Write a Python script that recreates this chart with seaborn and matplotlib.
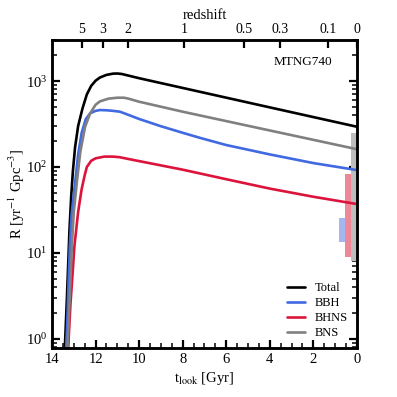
import numpy as np
import pandas as pd
import matplotlib
matplotlib.use('Agg')
import matplotlib.pyplot as plt
import seaborn as sns
from matplotlib.ticker import MultipleLocator, LogLocator, NullFormatter

# merger rate curves (lookback time in Gyr, rate in yr^-1 Gpc^-3)
t_total = [13.42, 13.38, 13.32, 13.26, 13.2, 13.12, 13.04, 12.94, 12.8, 12.6, 12.4, 12.2, 12.0,
           11.8, 11.5, 11.2, 11.0, 10.8, 10.5, 10.0, 8.0, 6.0, 4.0, 2.0, 0.0]
r_total = [0.7, 1.2, 2.8, 7, 18, 45, 90, 170, 300, 480, 700, 880, 1010,
           1100, 1180, 1220, 1225, 1210, 1160, 1080, 832, 641, 494, 381, 294]

t_bbh = [13.36, 13.3, 13.24, 13.18, 13.1, 12.94, 12.8, 12.64, 12.45, 12.25, 12.0, 11.8, 11.5,
         11.2, 10.88, 10.5, 10.0, 9.0, 8.0, 7.2, 6.0, 4.0, 2.0, 0.0]
r_bbh = [0.7, 1.5, 4.5, 12, 28, 65, 140, 249, 360, 421, 450, 460, 457,
         450, 440, 405, 362, 298, 250, 218, 180, 140, 111, 92]

t_bhns = [13.26, 13.22, 13.15, 13.05, 12.97, 12.8, 12.64, 12.5, 12.4, 12.2, 12.0, 11.6,
          11.2, 10.9, 10.5, 10.0, 8.0, 6.0, 4.0, 2.0, 0.0]
r_bhns = [0.7, 1.2, 2.6, 6, 12, 30, 55, 80, 100, 118, 126, 132,
          132, 130, 124, 117, 93, 72, 56, 45, 37]

t_bns = [13.3, 13.24, 13.15, 13.09, 13.0, 12.85, 12.7, 12.48, 12.25, 12.0, 11.8, 11.4,
         11.0, 10.7, 10.5, 10.0, 8.0, 6.0, 4.0, 2.0, 0.0]
r_bns = [0.7, 1.5, 5, 12, 30, 70, 150, 294, 420, 530, 580, 625,
         640, 640, 625, 575, 440, 342, 266, 207, 161]

# observed local rate ranges (bars at the right edge)
obs_names = ['BNS', 'BHNS', 'BBH']
obs_low = [8, 9, 13.4]
obs_high = [250, 83, 25.7]

z_ticks = [5, 3, 2, 1, 0.5, 0.3, 0.1, 0]
z_labels = ['5', '3', '2', '1', '0.5', '0.3', '0.1', '0']

colors = {'Total': 'black', 'BBH': '#4169e1', 'BHNS': '#dc143c', 'BNS': 'gray'}


def lookback(z, H0=67.74, Om=0.3089):
    # flat LCDM lookback time in Gyr
    if z == 0:
        return 0.0
    zz = np.linspace(0, z, 2000)
    E = np.sqrt(Om * (1 + zz) ** 3 + 1 - Om)
    return 977.8 / H0 * np.trapezoid(1 / ((1 + zz) * E), zz)


frames = []
for name, t, r in [('Total', t_total, r_total), ('BBH', t_bbh, r_bbh),
                   ('BHNS', t_bhns, r_bhns), ('BNS', t_bns, r_bns)]:
    frames.append(pd.DataFrame({'t': t, 'R': r, 'type': name}))
df = pd.concat(frames, ignore_index=True)

sns.set_style('ticks')
plt.rcParams['font.family'] = ['Liberation Serif', 'DejaVu Serif']
plt.rcParams['mathtext.fontset'] = 'stix'
plt.rcParams['font.size'] = 10
plt.rcParams['axes.edgecolor'] = 'black'
plt.rcParams['xtick.color'] = 'black'
plt.rcParams['ytick.color'] = 'black'
plt.rcParams['text.color'] = 'black'
plt.rcParams['axes.labelcolor'] = 'black'

fig = plt.figure(figsize=(3.97, 3.97), dpi=100)
ax = fig.add_axes([0.131, 0.1234, 0.768, 0.7756])

# observational bars
bar_x = [0.14, 0.415, 0.69]
bar_w = [0.28, 0.27, 0.28]
bar_c = ['#bdbdbd', '#ee8898', '#a6b6ee']
for x, w, lo, hi, c in zip(bar_x, bar_w, obs_low, obs_high, bar_c):
    ax.bar(x, hi - lo, width=w, bottom=lo, color=c, linewidth=0, zorder=1)

sns.lineplot(data=df, x='t', y='R', hue='type', palette=colors, estimator=None,
             sort=False, linewidth=1.9, ax=ax, zorder=3)

ax.set_yscale('log')
ax.set_xlim(14, 0)
ax.set_ylim(0.78, 3000)
ax.xaxis.set_major_locator(MultipleLocator(2))
ax.xaxis.set_minor_locator(MultipleLocator(0.5))
ax.yaxis.set_major_locator(LogLocator(base=10, numticks=10))
ax.yaxis.set_minor_locator(LogLocator(base=10, subs=np.arange(2, 10) * 1.0, numticks=100))
ax.yaxis.set_minor_formatter(NullFormatter())
ax.tick_params(which='both', direction='in', top=False, bottom=True, left=True, right=True,
               color='black', labelsize=10.5)
ax.tick_params(which='major', length=6, width=1.6)
ax.tick_params(which='minor', length=3.5, width=1.1)
for s in ax.spines.values():
    s.set_linewidth(1.8)
    s.set_zorder(5)

ax.set_xlabel(r't$_{\rm look}$ [Gyr]', fontsize=10.5, labelpad=3)
ax.set_ylabel(r'R [yr$^{-1}$ Gpc$^{-3}$]', fontsize=10.5, labelpad=-1)

ax.text(0.92, 0.93, 'MTNG740', transform=ax.transAxes, ha='right', va='center', fontsize=9.5)

ax.legend(frameon=False, loc='lower right', fontsize=9, handlelength=1.45,
          labelspacing=0.25, handletextpad=0.8, borderaxespad=0.3,
          bbox_to_anchor=(1.0, 0.0))

# redshift axis on top
ax2 = ax.twiny()
ax2.set_xlim(ax.get_xlim())
ax2.set_xticks([lookback(z) for z in z_ticks])
ax2.set_xticklabels(z_labels)
ax2.tick_params(direction='in', length=6, width=1.6, pad=3, color='black', labelsize=10)
ax2.set_xlabel('redshift', fontsize=10.5, labelpad=3)
for s in ax2.spines.values():
    s.set_linewidth(1.8)

fig.savefig('out.png', dpi=100)
